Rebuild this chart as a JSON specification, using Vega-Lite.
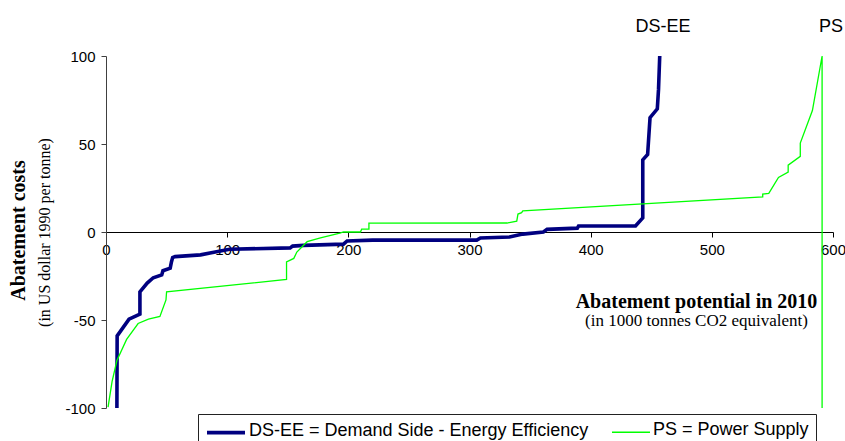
{
  "$schema": "https://vega.github.io/schema/vega-lite/v6.json",
  "width": 727,
  "height": 352,
  "autosize": "none",
  "padding": {"left": 106, "top": 56, "right": 12, "bottom": 33},
  "background": "white",
  "config": {"view": {"stroke": null}, "font": "Liberation Sans", "axis": {"grid": false}},
  "datasets": {
    "curves": [
      {"series": "DS-EE = Demand Side - Energy Efficiency", "i": 1, "x": 9, "y": -100},
      {"series": "DS-EE = Demand Side - Energy Efficiency", "i": 2, "x": 9.2, "y": -59},
      {"series": "DS-EE = Demand Side - Energy Efficiency", "i": 3, "x": 19, "y": -49.5},
      {"series": "DS-EE = Demand Side - Energy Efficiency", "i": 4, "x": 28, "y": -46.6},
      {"series": "DS-EE = Demand Side - Energy Efficiency", "i": 5, "x": 28, "y": -34},
      {"series": "DS-EE = Demand Side - Energy Efficiency", "i": 6, "x": 34, "y": -29},
      {"series": "DS-EE = Demand Side - Energy Efficiency", "i": 7, "x": 39, "y": -26},
      {"series": "DS-EE = Demand Side - Energy Efficiency", "i": 8, "x": 46, "y": -24.4},
      {"series": "DS-EE = Demand Side - Energy Efficiency", "i": 9, "x": 47, "y": -22},
      {"series": "DS-EE = Demand Side - Energy Efficiency", "i": 10, "x": 53, "y": -20.5},
      {"series": "DS-EE = Demand Side - Energy Efficiency", "i": 11, "x": 54, "y": -17},
      {"series": "DS-EE = Demand Side - Energy Efficiency", "i": 12, "x": 55, "y": -14.5},
      {"series": "DS-EE = Demand Side - Energy Efficiency", "i": 13, "x": 57, "y": -14},
      {"series": "DS-EE = Demand Side - Energy Efficiency", "i": 14, "x": 78, "y": -13},
      {"series": "DS-EE = Demand Side - Energy Efficiency", "i": 15, "x": 88, "y": -11.6},
      {"series": "DS-EE = Demand Side - Energy Efficiency", "i": 16, "x": 102, "y": -9.8},
      {"series": "DS-EE = Demand Side - Energy Efficiency", "i": 17, "x": 152, "y": -9},
      {"series": "DS-EE = Demand Side - Energy Efficiency", "i": 18, "x": 154, "y": -8},
      {"series": "DS-EE = Demand Side - Energy Efficiency", "i": 19, "x": 163, "y": -7.6},
      {"series": "DS-EE = Demand Side - Energy Efficiency", "i": 20, "x": 196, "y": -6.9},
      {"series": "DS-EE = Demand Side - Energy Efficiency", "i": 21, "x": 199, "y": -5.1},
      {"series": "DS-EE = Demand Side - Energy Efficiency", "i": 22, "x": 220, "y": -4.6},
      {"series": "DS-EE = Demand Side - Energy Efficiency", "i": 23, "x": 306, "y": -4.6},
      {"series": "DS-EE = Demand Side - Energy Efficiency", "i": 24, "x": 309, "y": -3.4},
      {"series": "DS-EE = Demand Side - Energy Efficiency", "i": 25, "x": 333, "y": -2.8},
      {"series": "DS-EE = Demand Side - Energy Efficiency", "i": 26, "x": 344, "y": -1.2},
      {"series": "DS-EE = Demand Side - Energy Efficiency", "i": 27, "x": 361, "y": 0},
      {"series": "DS-EE = Demand Side - Energy Efficiency", "i": 28, "x": 364, "y": 1.5},
      {"series": "DS-EE = Demand Side - Energy Efficiency", "i": 29, "x": 389, "y": 2.2},
      {"series": "DS-EE = Demand Side - Energy Efficiency", "i": 30, "x": 390, "y": 3.4},
      {"series": "DS-EE = Demand Side - Energy Efficiency", "i": 31, "x": 437, "y": 3.4},
      {"series": "DS-EE = Demand Side - Energy Efficiency", "i": 32, "x": 443, "y": 8},
      {"series": "DS-EE = Demand Side - Energy Efficiency", "i": 33, "x": 443, "y": 41},
      {"series": "DS-EE = Demand Side - Energy Efficiency", "i": 34, "x": 447, "y": 44},
      {"series": "DS-EE = Demand Side - Energy Efficiency", "i": 35, "x": 449, "y": 65},
      {"series": "DS-EE = Demand Side - Energy Efficiency", "i": 36, "x": 455, "y": 70},
      {"series": "DS-EE = Demand Side - Energy Efficiency", "i": 37, "x": 456, "y": 81},
      {"series": "DS-EE = Demand Side - Energy Efficiency", "i": 38, "x": 457, "y": 100},
      {"series": "PS = Power Supply", "i": 1, "x": 1.7, "y": -99.5},
      {"series": "PS = Power Supply", "i": 2, "x": 5, "y": -85},
      {"series": "PS = Power Supply", "i": 3, "x": 9, "y": -73},
      {"series": "PS = Power Supply", "i": 4, "x": 17, "y": -61},
      {"series": "PS = Power Supply", "i": 5, "x": 26.5, "y": -52},
      {"series": "PS = Power Supply", "i": 6, "x": 35, "y": -49.5},
      {"series": "PS = Power Supply", "i": 7, "x": 44.5, "y": -48},
      {"series": "PS = Power Supply", "i": 8, "x": 49.5, "y": -38.6},
      {"series": "PS = Power Supply", "i": 9, "x": 50, "y": -34},
      {"series": "PS = Power Supply", "i": 10, "x": 149, "y": -27},
      {"series": "PS = Power Supply", "i": 11, "x": 149, "y": -17},
      {"series": "PS = Power Supply", "i": 12, "x": 155, "y": -15},
      {"series": "PS = Power Supply", "i": 13, "x": 157.5, "y": -11.4},
      {"series": "PS = Power Supply", "i": 14, "x": 166, "y": -5.5},
      {"series": "PS = Power Supply", "i": 15, "x": 177, "y": -3.4},
      {"series": "PS = Power Supply", "i": 16, "x": 193, "y": -0.6},
      {"series": "PS = Power Supply", "i": 17, "x": 196, "y": 0},
      {"series": "PS = Power Supply", "i": 18, "x": 210, "y": 0},
      {"series": "PS = Power Supply", "i": 19, "x": 211, "y": 1.6},
      {"series": "PS = Power Supply", "i": 20, "x": 217, "y": 1.6},
      {"series": "PS = Power Supply", "i": 21, "x": 217, "y": 5},
      {"series": "PS = Power Supply", "i": 22, "x": 331, "y": 5.1},
      {"series": "PS = Power Supply", "i": 23, "x": 339, "y": 6.2},
      {"series": "PS = Power Supply", "i": 24, "x": 340, "y": 10.2},
      {"series": "PS = Power Supply", "i": 25, "x": 343, "y": 11},
      {"series": "PS = Power Supply", "i": 26, "x": 344, "y": 12},
      {"series": "PS = Power Supply", "i": 27, "x": 542, "y": 20},
      {"series": "PS = Power Supply", "i": 28, "x": 542, "y": 21.6},
      {"series": "PS = Power Supply", "i": 29, "x": 547, "y": 22},
      {"series": "PS = Power Supply", "i": 30, "x": 555, "y": 31},
      {"series": "PS = Power Supply", "i": 31, "x": 563, "y": 34},
      {"series": "PS = Power Supply", "i": 32, "x": 563, "y": 38},
      {"series": "PS = Power Supply", "i": 33, "x": 573, "y": 43},
      {"series": "PS = Power Supply", "i": 34, "x": 573, "y": 50.5},
      {"series": "PS = Power Supply", "i": 35, "x": 583, "y": 69},
      {"series": "PS = Power Supply", "i": 36, "x": 591, "y": 100},
      {"series": "PS = Power Supply", "i": 37, "x": 591, "y": -100}
    ],
    "labels": [
      {"label": "DS-EE", "x": 459.7, "y": 100},
      {"label": "PS", "x": 598.3, "y": 100}
    ]
  },
  "layer": [
    {
      "data": {"name": "curves"},
      "mark": {"type": "line", "interpolate": "linear"},
      "encoding": {
        "x": {
          "field": "x", "type": "quantitative",
          "scale": {"domain": [0, 600], "nice": false, "zero": false},
          "axis": {
            "orient": "bottom", "offset": -176,
            "values": [0, 100, 200, 300, 400, 500, 600],
            "labelFlush": false, "labelOverlap": false,
            "domainColor": "#000", "domainWidth": 1, "tickColor": "#000", "tickSize": 5,
            "labelFontSize": 15, "labelColor": "#000", "labelPadding": 5, "labelFont": "Liberation Sans",
            "title": "Abatement potential in 2010",
            "titleFont": "Liberation Serif", "titleFontSize": 20, "titleFontWeight": "bold", "titleColor": "#000",
            "titleX": 590, "titleY": 69, "titleBaseline": "middle", "titleAlign": "center", "titleAnchor": null
          }
        },
        "y": {
          "field": "y", "type": "quantitative",
          "scale": {"domain": [-100, 100], "nice": false},
          "axis": {
            "orient": "left",
            "values": [-100, -50, 0, 50, 100],
            "labelExpr": "toString(datum.value)",
            "labelFlush": false, "labelOverlap": false,
            "domainColor": "#404040", "tickColor": "#404040", "tickSize": 5,
            "labelFontSize": 15, "labelColor": "#000", "labelPadding": 6, "labelFont": "Liberation Sans",
            "title": "(in US dollar 1990 per tonne)",
            "titleFont": "Liberation Serif", "titleFontSize": 16, "titleFontWeight": "normal", "titleColor": "#000",
            "titleX": -62, "titleY": 176, "titleAngle": -90, "titleBaseline": "middle", "titleAlign": "center", "titleAnchor": null
          }
        },
        "color": {
          "field": "series", "type": "nominal",
          "scale": {"domain": ["DS-EE = Demand Side - Energy Efficiency", "PS = Power Supply"], "range": ["#000080", "#00ff00"]},
          "legend": {
            "title": null, "orient": "none", "legendX": 92, "legendY": 358,
            "direction": "horizontal", "columnPadding": 20,
            "strokeColor": "#222", "fillColor": "#fff", "padding": 7,
            "symbolType": "M-1,0H3", "symbolSize": 361,
            "labelFont": "Liberation Sans", "labelFontSize": 18, "labelColor": "#000", "labelOffset": 21, "labelLimit": 500,
            "encode": {"labels": {"update": {"dy": {"value": -2}}}}
          }
        },
        "strokeWidth": {
          "field": "series", "type": "nominal",
          "scale": {"domain": ["DS-EE = Demand Side - Energy Efficiency", "PS = Power Supply"], "range": [3.6, 1.3]},
          "legend": {
            "title": null, "orient": "none", "legendX": 92, "legendY": 358,
            "direction": "horizontal", "columnPadding": 20,
            "strokeColor": "#222", "fillColor": "#fff", "padding": 7,
            "symbolType": "M-1,0H3", "symbolSize": 361,
            "labelFont": "Liberation Sans", "labelFontSize": 18, "labelColor": "#000", "labelOffset": 21, "labelLimit": 500,
            "encode": {"labels": {"update": {"dy": {"value": -2}}}}
          }
        },
        "order": {"field": "i", "type": "quantitative"}
      }
    },
    {
      "data": {"name": "labels"},
      "mark": {"type": "text", "font": "Liberation Sans", "fontSize": 18, "color": "#000", "dy": -29, "align": "center", "baseline": "middle"},
      "encoding": {
        "x": {
          "field": "x", "type": "quantitative",
          "axis": {
            "orient": "top", "domain": false, "ticks": false, "labels": false,
            "title": "(in 1000 tonnes CO2 equivalent)",
            "titleFont": "Liberation Serif", "titleFontSize": 17, "titleFontWeight": "normal", "titleColor": "#000",
            "titleX": 590, "titleY": 264, "titleBaseline": "middle", "titleAlign": "center", "titleAnchor": null
          }
        },
        "y": {
          "field": "y", "type": "quantitative",
          "axis": {
            "orient": "right", "domain": false, "ticks": false, "labels": false,
            "title": "Abatement costs",
            "titleFont": "Liberation Serif", "titleFontSize": 20, "titleFontWeight": "bold", "titleColor": "#000",
            "titleX": -815, "titleY": 174, "titleAngle": -90, "titleBaseline": "middle", "titleAlign": "center", "titleAnchor": null
          }
        },
        "text": {"field": "label", "type": "nominal"}
      }
    }
  ],
  "resolve": {"axis": {"x": "independent", "y": "independent"}}
}
